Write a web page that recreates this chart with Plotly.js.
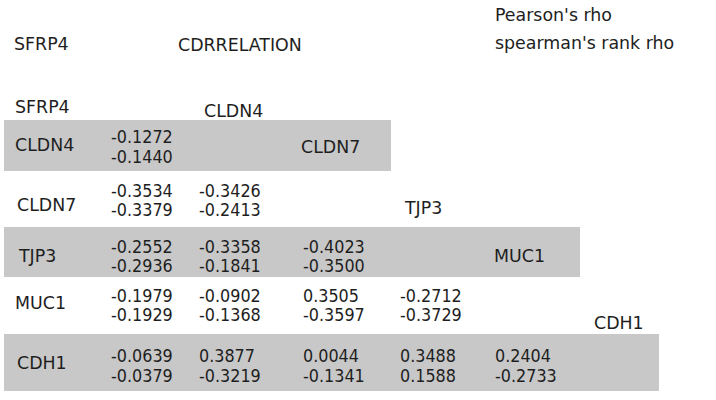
<!DOCTYPE html>
<html>
<head>
<meta charset="utf-8">
<script src="https://cdn.plot.ly/plotly-3.0.1.min.js"></script>
<style>html,body{margin:0;padding:0;background:#fff;}#chart{width:716px;height:400px;}</style>
</head>
<body>
<div id="chart"></div>
<script>
// ---- data ----
var genes = ['SFRP4', 'CLDN4', 'CLDN7', 'TJP3', 'MUC1', 'CDH1'];
var pearsonRho = [
  [],
  [-0.1272],
  [-0.3534, -0.3426],
  [-0.2552, -0.3358, -0.4023],
  [-0.1979, -0.0902, 0.3505, -0.2712],
  [-0.0639, 0.3877, 0.0044, 0.3488, 0.2404]
];
var spearmanRho = [
  [],
  [-0.1440],
  [-0.3379, -0.2413],
  [-0.2936, -0.1841, -0.3500],
  [-0.1929, -0.1368, -0.3597, -0.3729],
  [-0.0379, -0.3219, -0.1341, 0.1588, -0.2733]
];
var titleText = 'CDRRELATION';
var cornerText = 'SFRP4';
var legendLines = ["Pearson's rho", "spearman's rank rho"];

// ---- layout constants (pixel coords in data space) ----
var colX = [110, 198, 302, 399, 494];
var rowLabelX = [14, 14, 16, 17, 14, 16];
var rowLabelY = [107, 145, 205, 256, 303, 363];
var valTopY = [0, 136.5, 190.5, 246, 295, 355.5];
var valBotY = [0, 156, 209.5, 265.5, 314, 375.5];
var diagX = [14, 203, 300, 403, 493, 593];
var diagY = [107, 111, 147, 208, 256, 323];
var bands = [
  {row: 1, y0: 120, y1: 171, x1: 391},
  {row: 3, y0: 227, y1: 277, x1: 580},
  {row: 5, y0: 334, y1: 391, x1: 659}
];

var txtColor = '#1e1e1e';
var labelFont = {family: 'DejaVu Sans, Verdana, sans-serif', size: 17.4, color: txtColor};
var numFont = {family: 'DejaVu Sans Condensed, DejaVu Sans, sans-serif', size: 17.8, color: txtColor};

var ann = [];
function addText(x, y, t, f) {
  ann.push({x: x, y: y, xref: 'x', yref: 'y', text: t, showarrow: false,
    xanchor: 'left', yanchor: 'middle', font: f, borderpad: 0});
}
addText(13, 44, cornerText, labelFont);
addText(177, 45, titleText, labelFont);
addText(494, 15, legendLines[0], labelFont);
addText(494, 43, legendLines[1], labelFont);

// diagonal column labels
for (var i = 0; i < genes.length; i++) {
  addText(diagX[i], diagY[i], genes[i], labelFont);
}
// row labels and coefficient pairs
for (var r = 1; r < genes.length; r++) {
  addText(rowLabelX[r], rowLabelY[r], genes[r], labelFont);
  for (var c = 0; c < pearsonRho[r].length; c++) {
    addText(colX[c], valTopY[r], pearsonRho[r][c].toFixed(4), numFont);
    addText(colX[c], valBotY[r], spearmanRho[r][c].toFixed(4), numFont);
  }
}

var shapes = bands.map(function (b) {
  return {type: 'rect', xref: 'x', yref: 'y', x0: 4, x1: b.x1, y0: b.y0, y1: b.y1,
    fillcolor: '#c8c8c8', line: {width: 0}, layer: 'below'};
});

var layout = {
  width: 716, height: 400,
  margin: {l: 0, r: 0, t: 0, b: 0},
  paper_bgcolor: '#ffffff', plot_bgcolor: '#ffffff',
  xaxis: {range: [0, 716], visible: false, fixedrange: true},
  yaxis: {range: [400, 0], visible: false, fixedrange: true},
  showlegend: false,
  annotations: ann,
  shapes: shapes
};

Plotly.newPlot('chart', [{x: [], y: [], type: 'scatter', mode: 'markers', hoverinfo: 'skip'}], layout, {staticPlot: true, displayModeBar: false});
</script>
</body>
</html>
